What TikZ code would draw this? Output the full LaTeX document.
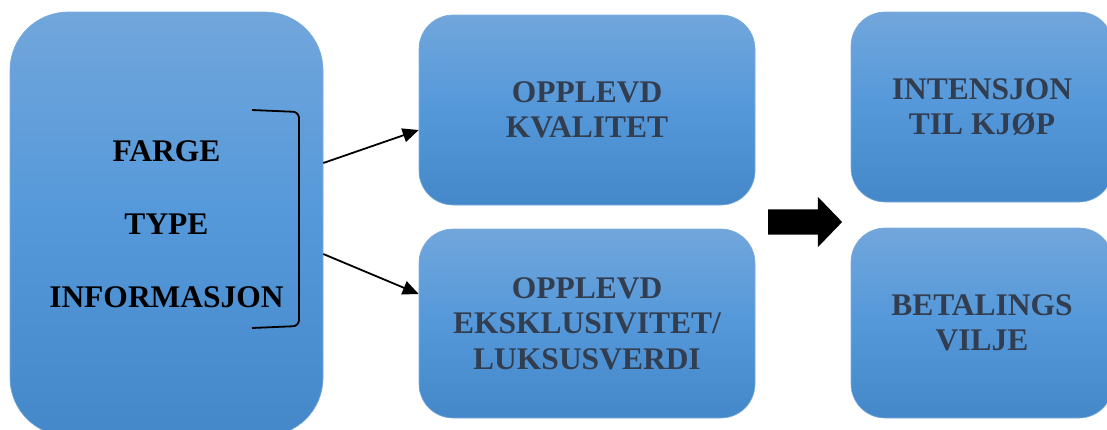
\documentclass[tikz,border=0pt]{standalone}
\usepackage{fontspec}
\setmainfont{Liberation Serif}
\usepackage{tikz}
\usetikzlibrary{arrows.meta,shapes.arrows,positioning}
\definecolor{boxtop}{RGB}{113,166,219}
\definecolor{boxmid}{RGB}{84,152,218}
\definecolor{boxbot}{RGB}{69,136,202}
\definecolor{boxedge}{RGB}{125,172,220}
\definecolor{slate}{RGB}{50,62,80}

\begin{document}
\begin{tikzpicture}[x=1pt,y=-1pt,
	box/.style={rectangle,rounded corners=34pt,top color=boxtop,bottom color=boxbot,middle color=boxmid,
		draw=boxedge,line width=0.6pt,inner sep=0pt,align=center,font=\bfseries\fontsize{31.5}{35.5}\selectfont,text=slate},
	link/.style={line width=1.8pt,-{Triangle[length=16pt,width=14pt]}}]
	\useasboundingbox (0,0) rectangle (1107,429);
	\node[box,rounded corners=58pt,minimum width=313pt,minimum height=424pt,text=black,
		font=\bfseries\fontsize{31.5}{73}\selectfont] (drivere) at (166.5,224) {FARGE\\TYPE\\INFORMASJON};
	\node[box,minimum width=336pt,minimum height=190pt] (kvalitet) at (587,110) {OPPLEVD\\KVALITET};
	\node[box,minimum width=336pt,minimum height=189pt] (luksus) at (587,323.5) {OPPLEVD\\EKSKLUSIVITET/\\LUKSUSVERDI};
	\node[box,minimum width=262pt,minimum height=190pt] (intensjon) at (982,107) {INTENSJON\\TIL KJ\O P};
	\node[box,minimum width=262pt,minimum height=190pt] (betaling) at (982,323) {BETALINGS\\VILJE};
	\node[single arrow,fill=black,inner xsep=0pt,inner ysep=12.5pt,minimum height=74pt,
		single arrow head extend=12.5pt,single arrow tip angle=92] (pil) at (799,222) {};
	\draw[line width=1.8pt,rounded corners=6pt] (252,110) -- (299,112) -- (299,326) -- (252,328);
	\coordinate (ut1) at (drivere.east |- 0,163);
	\coordinate (ut2) at (drivere.east |- 0,254);
	\coordinate (inn1) at (kvalitet.west |- 0,130);
	\coordinate (inn2) at (luksus.west |- 0,294);
	\draw[link] (ut1) -- (inn1);
	\draw[link] (ut2) -- (inn2);
\end{tikzpicture}
\end{document}
